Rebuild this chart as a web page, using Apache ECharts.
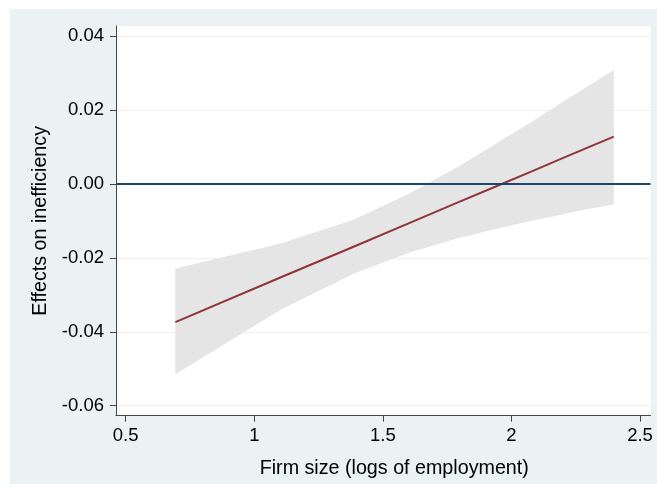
<!DOCTYPE html>
<html>
<head>
<meta charset="utf-8">
<script src="https://cdn.jsdelivr.net/npm/echarts@6/dist/echarts.min.js"></script>
<style>html,body{margin:0;padding:0;background:#fff}#c{width:657px;height:484px}</style>
</head>
<body>
<div id="c"></div>
<script>
// Firm size (logs of employment) at which effects were evaluated
const firmSize = [0.693, 1.099, 1.386, 1.609, 1.792, 1.946, 2.079, 2.197, 2.303, 2.398];
// Estimated effect on inefficiency
const effect = [-0.0374, -0.0254, -0.0170, -0.0104, -0.0050, -0.0005, 0.0034, 0.0069, 0.0100, 0.0128];
// Confidence interval bounds
const ciUpper = [-0.0229, -0.0162, -0.0097, -0.0024, 0.0046, 0.0111, 0.0168, 0.0220, 0.0267, 0.0308];
const ciLower = [-0.0515, -0.0342, -0.0243, -0.0184, -0.0147, -0.0121, -0.0100, -0.0083, -0.0067, -0.0056];
// Tick labels
const xTicks = [0.5, 1, 1.5, 2, 2.5];
const yTicks = [-0.06, -0.04, -0.02, 0, 0.02, 0.04];

const FONT = "'Liberation Sans', Arial, sans-serif";
const AXIS_COLOR = '#444';

const bandData = firmSize.map((x, i) => [x, ciLower[i], ciUpper[i]]);

const chart = echarts.init(document.getElementById('c'), null, {renderer: 'canvas'});
chart.setOption({
  backgroundColor: '#ffffff',
  animation: false,
  graphic: [{
    type: 'rect', z: -10, silent: true,
    shape: {x: 10, y: 9, width: 647, height: 475},
    style: {fill: '#EAF2F3'}
  }],
  grid: {
    left: 116, top: 26, width: 534.5, height: 389.7,
    show: true, backgroundColor: '#ffffff', borderWidth: 0
  },
  xAxis: {
    type: 'value', min: 0.4623, max: 2.5408,
    name: 'Firm size (logs of employment)',
    nameLocation: 'middle', nameGap: 42.5,
    nameTextStyle: {fontFamily: FONT, fontSize: 19.7, color: '#000', padding: [0, 0, 0, 22]},
    axisLine: {show: true, onZero: false, lineStyle: {color: AXIS_COLOR, width: 1}},
    axisTick: {show: true, length: 6, inside: false, customValues: xTicks, lineStyle: {color: AXIS_COLOR}},
    axisLabel: {customValues: xTicks, margin: 11, fontFamily: FONT, fontSize: 18.5, color: '#000',
      formatter: v => String(v)},
    splitLine: {show: false}
  },
  yAxis: {
    type: 'value', min: -0.0627, max: 0.0427,
    name: 'Effects on inefficiency',
    nameLocation: 'middle', nameGap: 65.5,
    nameTextStyle: {fontFamily: FONT, fontSize: 19.7, color: '#000'},
    axisLine: {show: true, onZero: false, lineStyle: {color: AXIS_COLOR, width: 1}},
    axisTick: {show: true, length: 6, inside: false, customValues: yTicks, lineStyle: {color: AXIS_COLOR}},
    axisLabel: {customValues: yTicks, margin: 12, fontFamily: FONT, fontSize: 18.5, color: '#000',
      formatter: v => v.toFixed(2)},
    splitLine: {show: true, lineStyle: {color: '#EAF2F3', width: 1}}
  },
  series: [
    {
      name: 'ci', type: 'custom', silent: true, z: 1,
      encode: {x: 0, y: [1, 2]},
      data: bandData,
      renderItem: function (params, api) {
        if (params.dataIndex !== 0) return null;
        const top = bandData.map(d => api.coord([d[0], d[2]]));
        const bot = bandData.map(d => api.coord([d[0], d[1]])).reverse();
        return {
          type: 'polygon',
          shape: {points: top.concat(bot)},
          style: {fill: '#E5E5E5', stroke: null}
        };
      }
    },
    {
      name: 'effect', type: 'line',
      data: firmSize.map((x, i) => [x, effect[i]]),
      symbol: 'none', lineStyle: {color: '#90353B', width: 2}, z: 3,
      markLine: {
        silent: true, symbol: 'none', label: {show: false},
        lineStyle: {color: '#1A476F', width: 2, type: 'solid'},
        data: [{yAxis: 0}]
      }
    }
  ]
});
</script>
</body>
</html>
